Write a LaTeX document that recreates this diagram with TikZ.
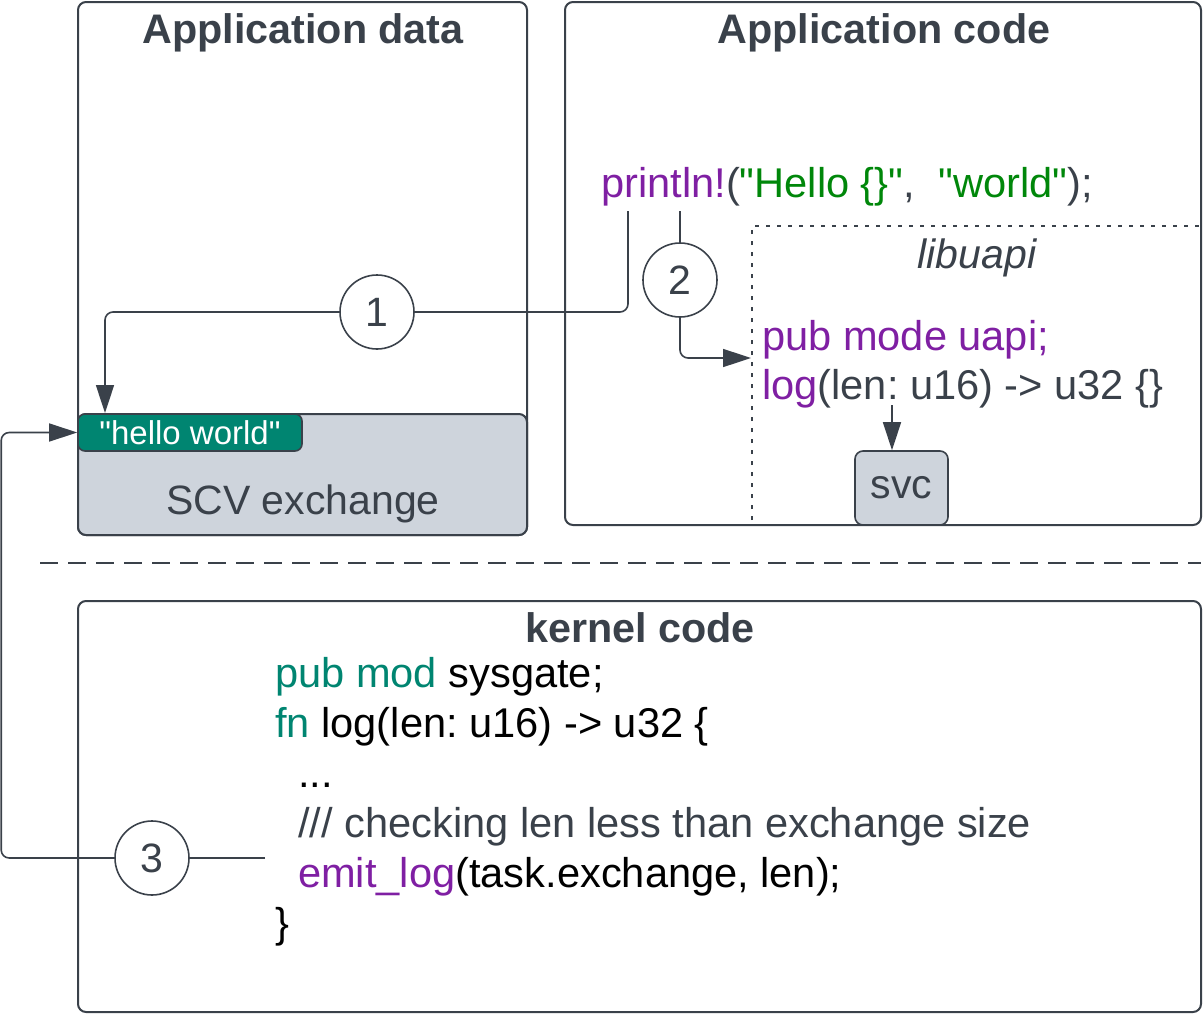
\documentclass[tikz,border=0pt]{standalone}
\usepackage{fontspec}
\setmainfont{Liberation Sans}[Ligatures=TeXOff]
\usetikzlibrary{arrows.meta}
\definecolor{ink}{HTML}{3A414A}
\definecolor{fillg}{HTML}{CED4DC}
\definecolor{cpurple}{HTML}{7F1FA3}
\definecolor{cgreen}{HTML}{00870A}
\definecolor{cteal}{HTML}{008571}
\newcommand{\bigfnt}{\fontsize{41}{49}\selectfont}
\newcommand{\codefnt}{\fontsize{41.6}{49}\selectfont}
\frenchspacing
\begin{document}
\begin{tikzpicture}[x=1pt,y=-1pt,
  box/.style={draw=ink, line width=2, rounded corners=8},
  conn/.style={draw=ink, line width=1.6, rounded corners=8},
  tip/.style={-{Triangle[length=28pt,width=18pt]}},
  num/.style={circle, draw=ink, line width=1.6, minimum size=74, inner sep=0, font=\bigfnt, text=ink, fill=white},
  txt/.style={font=\codefnt, inner sep=0, anchor=base west, text=ink},
  ctxt/.style={font=\bigfnt, inner sep=0, anchor=base, text=ink},
  title/.style={font=\fontsize{41.3}{49}\selectfont\bfseries, inner sep=0, anchor=base, text=ink},
  badge/.style={draw=ink, line width=1.6, rounded corners=7, fill=cteal, minimum width=224, minimum height=37, inner sep=0, text=white, font=\fontsize{33}{40}\selectfont},
  svcbox/.style={draw=ink, line width=1.6, rounded corners=8, fill=fillg, minimum width=93, minimum height=74, inner sep=0, text=ink, font=\bigfnt}
]
\useasboundingbox (0,0) rectangle (1203,1015);

% Application data
\draw[box] (78,2) rectangle (527,535);
\node[title] (tad) at (303,43) {Application data};
\draw[box, fill=fillg] (78,414) rectangle (527,535);
\node[ctxt] (scv) at (303,514) {SCV exchange};
\node[badge] (hw) at (190,432.5) {"hello world"};

% Application code
\draw[box] (565,2) rectangle (1201,525);
\node[title] (tac) at (884,43) {Application code};
\node[txt] (pl) at (601,197) {\textcolor{cpurple}{println!}(\textcolor{cgreen}{"Hello \{\}"},~~\textcolor{cgreen}{"world"});};
\draw[ink, line width=1.5, dash pattern=on 4 off 7] (752,520) -- (752,226) -- (1201,226);
\node[ctxt, font=\bigfnt\itshape] (lib) at (977,268) {libuapi};
\node[txt, text=cpurple] (pmu) at (762,350) {pub mode uapi;};
\node[txt] (lg) at (762,399) {\textcolor{cpurple}{log}(len: u16) -> u32 \{\}};
\node[svcbox] (svc) at (901.5,488) {svc};

% kernel
\draw[ink, line width=1.2, dash pattern=on 18 off 10] (40,563) -- (1201,563);
\draw[box] (78,601) rectangle (1201,1012);
\node[title] (tk) at (640,642) {kernel code};
\node[txt, text=black] (k1) at (275,687) {\textcolor{cteal}{pub mod} sysgate;};
\node[txt, text=black] (k2) at (275,737) {\textcolor{cteal}{fn} log(len: u16) -> u32 \{};
\node[txt, text=black] (k3t) at (298,787) {...};
\node[txt] (k4) at (298,837) {/// checking len less than exchange size};
\node[txt, text=black] (k5) at (298,887) {\textcolor{cpurple}{emit\_log}(task.exchange, len);};
\node[txt, text=black] (k6) at (275,937) {\}};

% circles
\node[num] (c1) at (377,312) {1};
\node[num] (c2) at (680,280) {2};
\node[num] (c3) at (152,858) {3};

% connector ends
\coordinate (p1) at (628,211);
\coordinate (p2) at (680,211);
\coordinate (a1) at (105,413);
\coordinate (l2) at (751,358);
\coordinate (l1) at (892,405);
\coordinate (k3) at (265,858);

\draw[conn] (p1) |- (c1.east);
\draw[conn, tip] (c1.west) -| (a1);
\draw[conn] (p2) -- (c2.north);
\draw[conn, tip] (c2.south) |- (l2);
\draw[conn, tip, rounded corners=0] (l1) -- (l1 |- svc.north);
\draw[conn] (k3) -- (c3.east);
\draw[conn, tip] (c3.west) -| ([xshift=-76pt]hw.west) -- (hw.west);
\end{tikzpicture}
\end{document}
